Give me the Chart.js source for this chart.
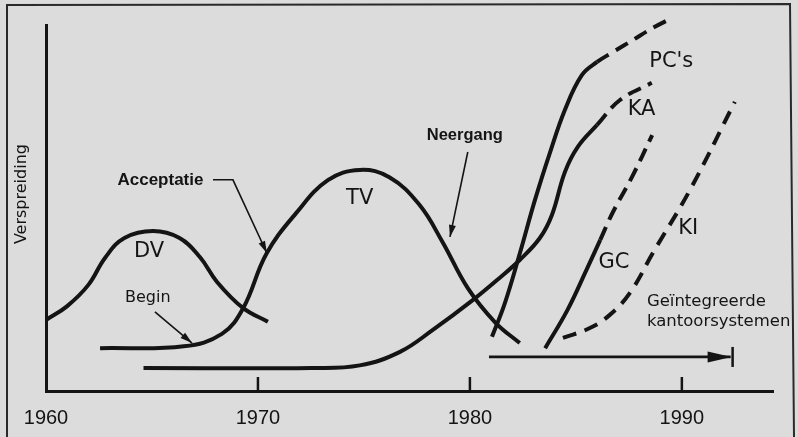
<!DOCTYPE html>
<html>
<head>
<meta charset="utf-8">
<title>Verspreiding</title>
<script src="https://cdn.jsdelivr.net/npm/chart.js@4.4.1/dist/chart.umd.min.js"></script>
<style>
  html, body { margin: 0; padding: 0; background: #dcdcdc; }
  #wrap { width: 798px; height: 437px; }
</style>
</head>
<body>
<div id="wrap"><canvas id="chart" width="798" height="437"></canvas></div>
<script>
// ---------------- data: jaar -> verspreiding (0-100) ----------------

const yearTicks = [1960, 1970, 1980, 1990];

const dvYears  = [1960.0, 1961.0, 1962.0, 1962.8, 1963.7, 1965.05, 1966.3, 1967.26, 1968.07, 1969.29, 1970.47];
const dvValues = [19.4, 23.2, 29.0, 36.5, 41.8, 43.7, 41.8, 36.6, 29.8, 22.7, 18.9];

const tvYears  = [1962.55, 1966.5, 1968.3, 1969.3, 1970.4, 1971.8, 1973.3, 1974.8, 1976.2, 1977.6, 1978.7, 1979.9, 1981.2, 1982.35];
const tvValues = [11.7, 12.2, 15.6, 22.6, 37.5, 48.6, 57.6, 60.4, 58.4, 51.0, 40.8, 28.1, 18.7, 13.1];

const kaYears  = [1964.6, 1972.5, 1974.8, 1976.7, 1978.25, 1980.15, 1981.4, 1982.35, 1983.3, 1983.87, 1984.48, 1985.09, 1986.0, 1987.08, 1988.58];
const kaValues = [6.3, 6.3, 7.0, 10.7, 16.7, 24.9, 30.9, 35.8, 41.8, 48.1, 59.8, 66.7, 72.7, 79.5, 84.2];

const pcYears  = [1981.04, 1981.65, 1982.36, 1983.07, 1983.77, 1984.48, 1985.28, 1986.0, 1986.75, 1987.69, 1988.63, 1989.53];
const pcValues = [14.8, 24.0, 37.7, 52.2, 65.0, 76.8, 86.3, 89.9, 92.6, 95.9, 99.2, 101.9];

const gcYears  = [1983.55, 1984.6, 1985.5, 1986.15, 1986.75, 1987.65, 1988.6];
const gcValues = [11.7, 22.1, 33.1, 41.3, 48.9, 58.5, 69.9];

const kiYears  = [1984.39, 1985.66, 1986.6, 1987.55, 1988.63, 1990.38, 1992.5];
const kiValues = [14.5, 17.2, 20.8, 26.8, 37.7, 54.9, 79.0];

// pijl "Geintegreerde kantoorsystemen"
const arrowYears  = [1980.9, 1992.3];
const arrowValues = [9.3, 9.3];

// vanaf welk jaar de lijn gestreept verder gaat
const dashFrom = { ka: 1986.0, pc: 1986.0, gc: 1986.15 };

// ---------------- teksten ----------------

const bigFont   = '21px "DejaVu Sans"';
const smallBold = 'bold 16.5px "Liberation Sans"';

const annotations = [
  { text: 'DV',   x: 1964.86, y: 38.0, font: bigFont },
  { text: 'TV',   x: 1974.8,  y: 52.7, font: bigFont },
  { text: "PC's", x: 1989.5,  y: 89.9, font: bigFont },
  { text: 'KA',   x: 1988.1,  y: 76.8, font: bigFont },
  { text: 'GC',   x: 1986.8,  y: 35.2, font: bigFont },
  { text: 'KI',   x: 1990.3,  y: 44.3, font: bigFont },
  { text: 'Acceptatie', x: 1965.4, y: 57.7, font: 'bold 17px "Liberation Sans"' },
  { text: 'Begin',      x: 1964.8, y: 25.4, font: '16px "DejaVu Sans"' },
  { text: 'Neergang',   x: 1979.76, y: 69.7, font: smallBold },
  { text: 'Geïntegreerde',   x: 1988.35, y: 24.3, font: '16.5px "DejaVu Sans"', align: 'left' },
  { text: 'kantoorsystemen', x: 1988.35, y: 18.9, font: '16.5px "DejaVu Sans"', align: 'left' }
];

// verwijslijntjes met pijlpunt
const leaders = [
  [[1967.88, 57.7], [1968.82, 57.7], [1970.42, 37.7]],
  [[1965.14, 21.6], [1966.89, 13.1]],
  [[1979.9, 65.3], [1979.06, 42.1]]
];

function toPoints(xs, ys) {
  return xs.map((x, i) => ({ x: x, y: ys[i] }));
}

function dashedAfter(year) {
  return ctx => ctx.p0.parsed.x >= year - 0.001 ? [14, 8] : undefined;
}

function arrowHead(ctx, x0, y0, x1, y1, len, half) {
  const a = Math.atan2(y1 - y0, x1 - x0);
  ctx.beginPath();
  ctx.moveTo(x1, y1);
  ctx.lineTo(x1 - len * Math.cos(a) + half * Math.sin(a), y1 - len * Math.sin(a) - half * Math.cos(a));
  ctx.lineTo(x1 - len * Math.cos(a) - half * Math.sin(a), y1 - len * Math.sin(a) + half * Math.cos(a));
  ctx.closePath();
  ctx.fill();
}

// ---------------- plugin voor achtergrond en teksten ----------------

const paperPlugin = {
  id: 'paper',
  beforeDraw(chart) {
    const ctx = chart.ctx;
    ctx.save();
    ctx.fillStyle = '#dcdcdc';
    ctx.fillRect(0, 0, chart.width, chart.height);
    // kader
    ctx.strokeStyle = '#2a2a2a';
    ctx.lineWidth = 2;
    ctx.beginPath();
    ctx.moveTo(7, 437);
    ctx.lineTo(7, 5);
    ctx.lineTo(790, 4);
    ctx.lineTo(794, 437);
    ctx.stroke();
    ctx.restore();
  },
  afterDatasetsDraw(chart) {
    const ctx = chart.ctx;
    const xs = chart.scales.x, ys = chart.scales.y;
    const base = chart.chartArea.bottom;
    ctx.save();
    ctx.fillStyle = '#141414';
    ctx.strokeStyle = '#141414';

    // streepjes en jaartallen
    ctx.lineWidth = 2.5;
    ctx.font = '20px "Liberation Sans"';
    ctx.textAlign = 'center';
    ctx.textBaseline = 'middle';
    yearTicks.forEach((yr, i) => {
      const px = xs.getPixelForValue(yr);
      if (i > 0) {
        ctx.beginPath();
        ctx.moveTo(px, base);
        ctx.lineTo(px, base - 14);
        ctx.stroke();
      }
      ctx.fillText(String(yr), px, base + 27);
    });

    // as-titel
    ctx.save();
    ctx.translate(chart.chartArea.left - 24, ys.getPixelForValue(53.8));
    ctx.rotate(-Math.PI / 2);
    ctx.font = '16px "DejaVu Sans"';
    ctx.fillText('Verspreiding', 0, 0);
    ctx.restore();

    // labels
    annotations.forEach(a => {
      ctx.font = a.font;
      ctx.textAlign = a.align || 'center';
      ctx.fillText(a.text, xs.getPixelForValue(a.x), ys.getPixelForValue(a.y));
    });

    // verwijslijnen
    ctx.lineWidth = 1.6;
    leaders.forEach(pts => {
      const p = pts.map(q => [xs.getPixelForValue(q[0]), ys.getPixelForValue(q[1])]);
      ctx.beginPath();
      ctx.moveTo(p[0][0], p[0][1]);
      for (let i = 1; i < p.length; i++) ctx.lineTo(p[i][0], p[i][1]);
      ctx.stroke();
      const n = p.length;
      arrowHead(ctx, p[n - 2][0], p[n - 2][1], p[n - 1][0], p[n - 1][1], 12, 3.5);
    });

    // pijlpunt + eindstreep
    const ex = xs.getPixelForValue(arrowYears[1]);
    const ey = ys.getPixelForValue(arrowValues[1]);
    arrowHead(ctx, ex - 30, ey, ex + 1, ey, 24, 5.5);
    ctx.lineWidth = 2.5;
    ctx.beginPath();
    ctx.moveTo(ex + 2, ey - 10);
    ctx.lineTo(ex + 2, ey + 10);
    ctx.stroke();
    ctx.restore();
  }
};

// ---------------- grafiek ----------------

const ink = '#141414';

new Chart(document.getElementById('chart'), {
  type: 'line',
  data: {
    datasets: [
      { label: 'DV', data: toPoints(dvYears, dvValues) },
      { label: 'TV', data: toPoints(tvYears, tvValues) },
      { label: 'KA', data: toPoints(kaYears, kaValues), segment: { borderDash: dashedAfter(dashFrom.ka) } },
      { label: "PC's", data: toPoints(pcYears, pcValues), segment: { borderDash: dashedAfter(dashFrom.pc) } },
      { label: 'GC', data: toPoints(gcYears, gcValues), segment: { borderDash: dashedAfter(dashFrom.gc) } },
      { label: 'KI', data: toPoints(kiYears, kiValues), borderDash: [14, 9] },
      { label: 'pijl', data: toPoints(arrowYears, arrowValues), borderWidth: 2.8 }
    ]
  },
  options: {
    responsive: false,
    animation: false,
    layout: { padding: { left: 46, top: 25, right: 25, bottom: 46 } },
    plugins: { legend: { display: false }, tooltip: { enabled: false } },
    datasets: { line: { clip: false } },
    elements: {
      point: { radius: 0 },
      line: { borderColor: ink, borderWidth: 4, tension: 0.4, fill: false, borderJoinStyle: 'round' }
    },
    scales: {
      x: {
        type: 'linear', min: 1960, max: 1994.3,
        ticks: { display: false },
        grid: { display: false, drawTicks: false },
        border: { display: true, color: ink, width: 3 }
      },
      y: {
        min: 0, max: 100,
        ticks: { display: false },
        grid: { display: false, drawTicks: false },
        border: { display: true, color: ink, width: 3 }
      }
    }
  },
  plugins: [paperPlugin]
});
</script>
</body>
</html>
